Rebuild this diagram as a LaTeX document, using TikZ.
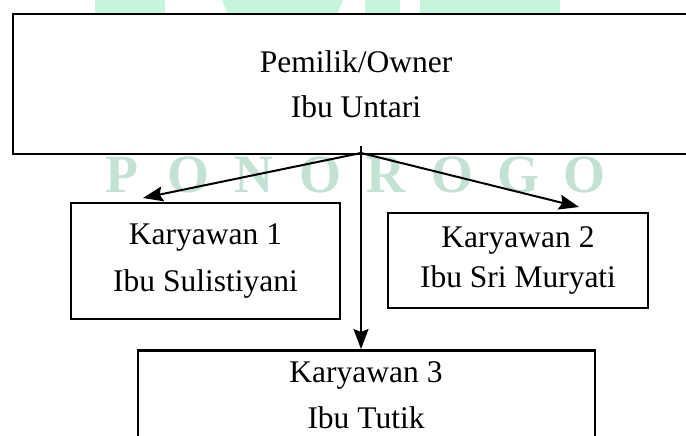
\documentclass[tikz,border=0pt]{standalone}
\usepackage{fontspec}
\setmainfont{Liberation Serif}
\usetikzlibrary{arrows.meta}
\definecolor{wmtext}{RGB}{195,226,212}
\definecolor{wmlogo}{RGB}{200,244,222}
\tikzset{
  box/.style={draw=black, line width=2.5pt, fill=white, align=center, inner sep=0pt},
  conn/.style={line width=2pt, -{Stealth[length=20pt,width=15pt,inset=3pt]}},
  wm/.style={text=wmtext, font=\fontsize{54}{54}\selectfont\bfseries, anchor=base},
}
\begin{document}
\begin{tikzpicture}[x=1pt, y=-1pt]
\useasboundingbox (0,0) rectangle (686,436);
% watermark logo (background)
\fill[wmlogo] (95,-5) rectangle (165,20);
\fill[wmlogo] (220,-5) -- (345,-5) -- (335,20) -- (230,20) -- cycle;
\fill[wmlogo] (365,-5) rectangle (400,20);
\fill[wmlogo] (420,-5) rectangle (560,20);
% watermark text
\foreach \ch [count=\i from 0] in {P,O,N,O,R,O,G,O}
  \node[wm] (wm\i) at (122+66*\i,192) {\ch};
% boxes
\node[box, minimum width=686pt, minimum height=140pt,
      font=\fontsize{31.5}{45}\selectfont] (owner) at (356,84)
      {Pemilik/Owner\\Ibu Untari};
\node[box, minimum width=269pt, minimum height=116pt,
      font=\fontsize{31.5}{47}\selectfont] (k1) at (205.5,261)
      {Karyawan 1\\Ibu Sulistiyani};
\node[box, minimum width=260pt, minimum height=95pt,
      font=\fontsize{31.5}{40}\selectfont] (k2) at (518,260.5)
      {Karyawan 2\\Ibu Sri Muryati};
\node[box, minimum width=457pt, minimum height=140pt, anchor=north] (k3) at (366.5,349) {};
\node[font=\fontsize{31.5}{46}\selectfont, align=center, anchor=base] (k3t) at (366,428)
      {Karyawan 3\\Ibu Tutik};
% connectors
\coordinate (hub) at (361,153);
\coordinate (tick) at (361,146);
\coordinate (t1) at (143,198);
\coordinate (t2) at (579,207);
\draw[line width=2pt] (tick) -- (hub);
\draw[conn] (hub) -- (t1);
\draw[conn] (hub) -- (t2);
\draw[conn] (hub) -- (k3.north -| hub);
\end{tikzpicture}
\end{document}
